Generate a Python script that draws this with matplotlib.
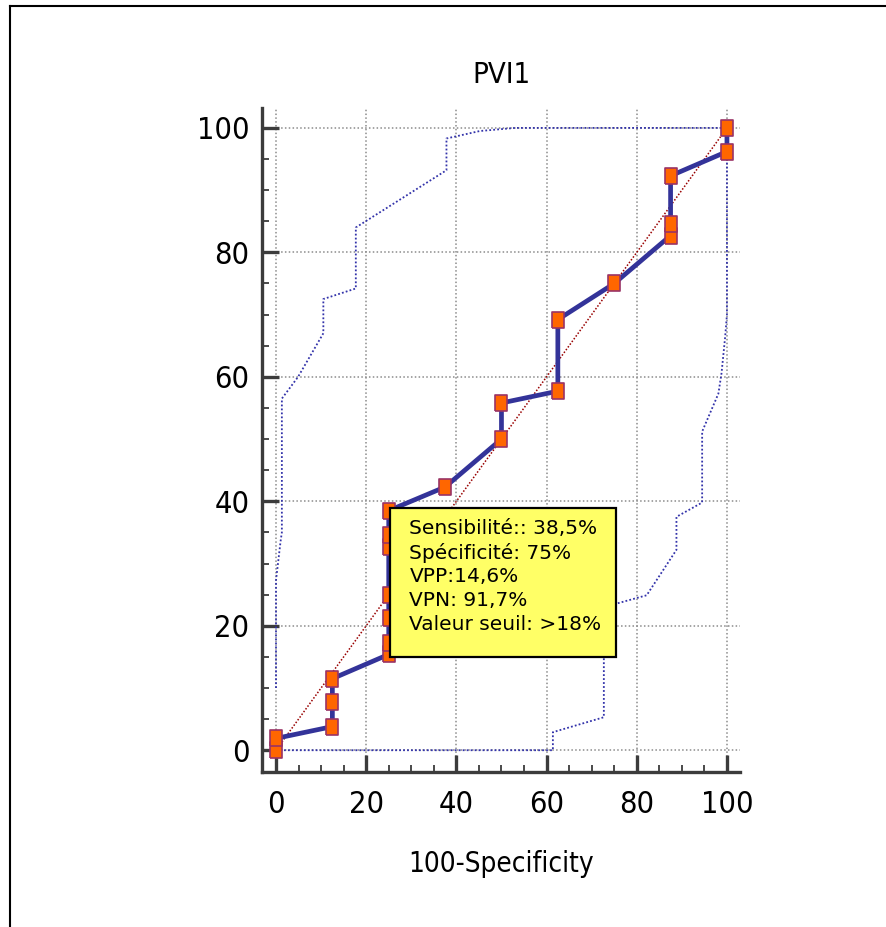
import matplotlib
matplotlib.use("Agg")
import matplotlib.pyplot as plt
from matplotlib.lines import Line2D
from matplotlib.patches import Rectangle
from matplotlib.ticker import MultipleLocator

# ROC points (100-specificity, sensitivity)
fpr = [0, 0, 12.5, 12.5, 12.5, 25, 25, 25, 25, 25, 25, 25, 37.5, 50, 50,
       62.5, 62.5, 75, 87.5, 87.5, 87.5, 100, 100]
sens = [0, 1.9, 3.8, 7.7, 11.5, 15.4, 17.3, 21.2, 25.0, 32.7, 34.6, 38.5,
        42.3, 50.0, 55.8, 57.7, 69.2, 75.0, 82.7, 84.6, 92.3, 96.2, 100]

# confidence bounds
upper_x = [0, 0, 0.6, 1.0, 1.3, 1.3, 4.9, 10.5, 10.5, 17.7, 17.7, 37.8, 37.8, 45.2, 53, 100]
upper_y = [10, 27.3, 31, 33.5, 35, 56.5, 60, 67, 72.5, 74.2, 84, 93.2, 98.3, 99.5, 100, 100]
lower_x = [0, 61.4, 61.4, 72.7, 72.7, 82.2, 88.8, 88.8, 94.5, 94.5, 98.1, 98.8, 99.6, 100, 100]
lower_y = [0, 0, 2.9, 5.3, 23.0, 24.9, 32.2, 37.5, 39.8, 51.2, 57.3, 60.6, 66.4, 70, 100]

info_lines = ["Sensibilité:: 38,5%", "Spécificité: 75%", "VPP:14,6%",
              "VPN: 91,7%", "Valeur seuil: >18%"]

narrow = ["DejaVu Sans"]
axis_col = "#3c3c3c"

fig = plt.figure(figsize=(8.87, 9.27), dpi=100)
ax = fig.add_axes([0.2954, 0.1672, 0.5389, 0.7163])

ax.set_xlim(-3.1, 102.9)
ax.set_ylim(-3.5, 103.2)

# grid + diagonal
ax.grid(True, which="major", color="#8c8c8c", linestyle=(0, (1, 1.5)), linewidth=1.1, zorder=0)
ax.plot([0, 100], [0, 100], color="#990000", linestyle=(0, (1, 1.2)), linewidth=1.1, zorder=2)

# confidence bounds
ax.plot(upper_x, upper_y, color="#3333aa", linestyle=(0, (1, 1.2)), linewidth=1.3, zorder=2)
ax.plot(lower_x, lower_y, color="#3333aa", linestyle=(0, (1, 1.2)), linewidth=1.3, zorder=2)

# ROC curve
box_marker = [(-0.4, -0.5), (0.4, -0.5), (0.4, 0.5), (-0.4, 0.5), (-0.4, -0.5)]
ax.plot(fpr, sens, color="#333399", linewidth=3.4, zorder=3,
        marker=box_marker, markersize=11.5, markerfacecolor="#ff6600",
        markeredgecolor="#993366", markeredgewidth=1.2)

# info box
ax.add_patch(Rectangle((25.3, 15.0), 50.1, 23.9, facecolor="#ffff66",
                       edgecolor="black", linewidth=1.6, zorder=5))
for i, line in enumerate(info_lines):
    ax.text(29.6, 35.6 - i * 3.85, line, fontsize=14.5, va="center", ha="left",
            color="black", zorder=6)

# axes styling
for side in ["top", "right"]:
    ax.spines[side].set_visible(False)
for side in ["left", "bottom"]:
    ax.spines[side].set_color(axis_col)
    ax.spines[side].set_linewidth(2.4)

ax.xaxis.set_major_locator(MultipleLocator(20))
ax.yaxis.set_major_locator(MultipleLocator(20))
ax.xaxis.set_minor_locator(MultipleLocator(5))
ax.yaxis.set_minor_locator(MultipleLocator(5))
ax.tick_params(which="major", direction="in", length=12, width=2.4, color=axis_col, pad=9)
ax.tick_params(which="minor", direction="in", length=5, width=1.3, color=axis_col)
ax.tick_params(axis="x", which="major", pad=13)
for lab in ax.get_xticklabels() + ax.get_yticklabels():
    lab.set_fontsize(22)
    lab.set_family(narrow)
    lab.set_fontstretch("condensed")

ax.set_title("PVI1", fontsize=21, family=narrow, fontstretch="condensed", pad=18)
ax.set_xlabel("100-Specificity", fontsize=20, family=narrow, fontstretch="condensed",
              labelpad=22)

# outer frame of the screenshot
fig.add_artist(Line2D([10 / 887, 10 / 887], [0, 1 - 6 / 927], color="black", linewidth=1.5))
fig.add_artist(Line2D([10 / 887, 1], [1 - 6 / 927, 1 - 6 / 927], color="black", linewidth=1.5))

fig.savefig("out.png", dpi=100)
